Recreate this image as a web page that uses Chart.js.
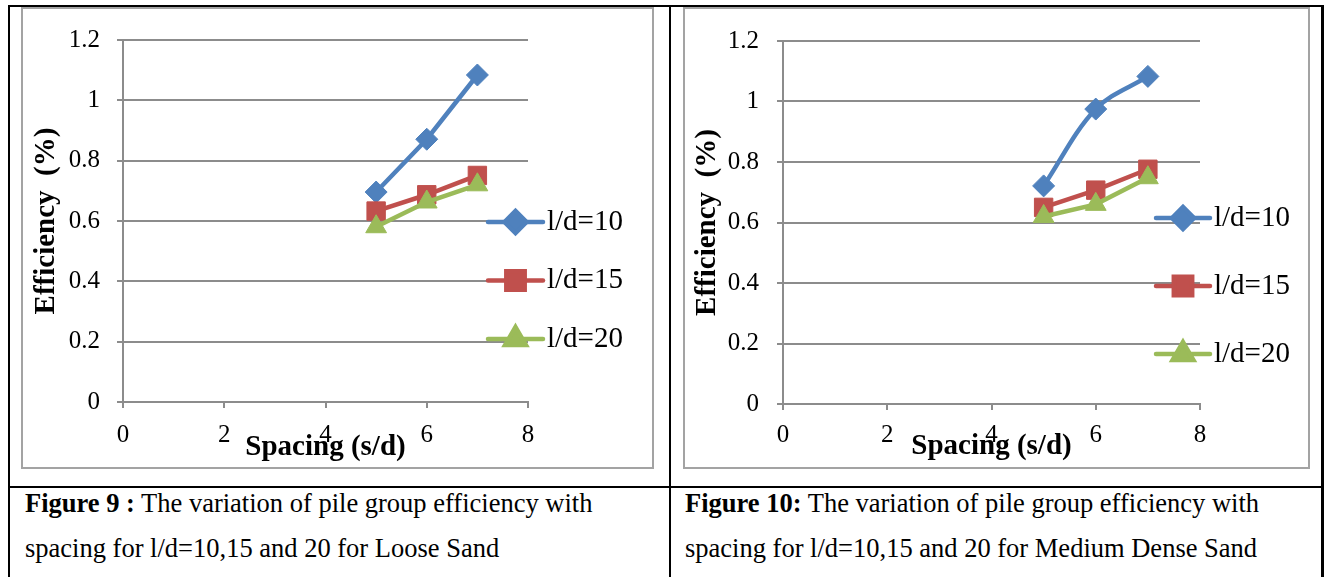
<!DOCTYPE html>
<html>
<head>
<meta charset="utf-8">
<script src="https://cdn.jsdelivr.net/npm/chart.js@4.4.1/dist/chart.umd.min.js"></script>
<style>
  body { margin: 0; background: #fff; }
  #page { position: relative; width: 1330px; height: 577px; overflow: hidden; font-family: "Liberation Serif", "Times New Roman", serif; }
  .rule { position: absolute; background: #000; }
  .frame { position: absolute; border: 2px solid #a3a3a3; box-sizing: border-box; }
  canvas { position: absolute; }
  .caption { position: absolute; top: 480.5px; font-size: 26.5px; line-height: 45px; white-space: nowrap; color: #000; }
</style>
</head>
<body>
<div id="page">
  <div class="frame" style="left:21px; top:7px; width:633px; height:462px;"></div>
  <div class="frame" style="left:683px; top:7px; width:627px; height:462px;"></div>

  <canvas id="looseSandChart" width="629" height="460" style="left:23px; top:8px;"></canvas>
  <canvas id="mediumSandChart" width="622" height="460" style="left:685px; top:8px;"></canvas>

  <div class="rule" style="left:8px; top:5px; width:1316px; height:2px;"></div>
  <div class="rule" style="left:8px; top:5px; width:2px; height:572px;"></div>
  <div class="rule" style="left:1321px; top:5px; width:3px; height:572px;"></div>
  <div class="rule" style="left:669px; top:5px; width:2px; height:572px;"></div>
  <div class="rule" style="left:8px; top:486px; width:1316px; height:2px;"></div>

  <div class="caption" style="left:25px;"><b>Figure 9 :</b> The variation of pile group efficiency with<br>spacing for l/d=10,15 and 20 for Loose Sand</div>
  <div class="caption" style="left:685px;"><b>Figure 10:</b> The variation of pile group efficiency with<br>spacing for l/d=10,15 and 20 for Medium Dense Sand</div>
</div>

<script>
// --- Dados ---
const spacing = [5, 6, 7];
const seriesLabels = ['l/d=10', 'l/d=15', 'l/d=20'];

const looseSand10 = [0.696, 0.871, 1.084];
const looseSand15 = [0.633, 0.687, 0.751];
const looseSand20 = [0.581, 0.663, 0.720];

const mediumSand10 = [0.721, 0.975, 1.083];
const mediumSand15 = [0.650, 0.707, 0.776];
const mediumSand20 = [0.620, 0.660, 0.748];

const xTicks = [0, 2, 4, 6, 8];
const yTicks = [0, 0.2, 0.4, 0.6, 0.8, 1, 1.2];

// --- Estilo ---
const seriesColors = ['#4F81BD', '#C0504D', '#9BBB59'];
const seriesMarkers = ['rectRot', 'rect', 'triangle'];
const markerRadius = [11, 13, 12];
const gridColor = '#8c8c8c';

Chart.defaults.font.family = '"Liberation Serif", "Times New Roman", serif';
Chart.defaults.color = '#000';

// legenda lateral estilo Excel (linha + marcador + texto), sobreposta ao gráfico
const sideLegend = {
    id: 'sideLegend',
    afterDraw(chart, args, opts) {
        const ctx = chart.ctx;
        chart.data.datasets.forEach((ds, i) => {
            const y = opts.top + i * opts.gap;
            ctx.save();
            ctx.strokeStyle = ds.borderColor;
            ctx.lineWidth = ds.borderWidth;
            ctx.lineCap = 'round';
            ctx.beginPath();
            ctx.moveTo(opts.left, y);
            ctx.lineTo(opts.left + opts.lineLength, y);
            ctx.stroke();

            ctx.fillStyle = ds.pointBackgroundColor;
            ctx.strokeStyle = ds.pointBorderColor;
            Chart.helpers.drawPoint(ctx, {
                pointStyle: ds.pointStyle,
                radius: ds.pointRadius,
                borderWidth: 1,
                rotation: 0
            }, opts.left + opts.lineLength / 2, y);

            ctx.fillStyle = '#000';
            ctx.font = opts.fontSize + 'px "Liberation Serif", "Times New Roman", serif';
            ctx.textBaseline = 'middle';
            ctx.textAlign = 'left';
            ctx.fillText(ds.label, opts.left + opts.lineLength + opts.textGap, y);
            ctx.restore();
        });
    }
};

function criarGrafico(canvasId, valores, suavizar, box, legenda) {
    const datasets = valores.map((vals, i) => ({
        label: seriesLabels[i],
        data: spacing.map((s, j) => ({ x: s, y: vals[j] })),
        borderColor: seriesColors[i],
        backgroundColor: seriesColors[i],
        pointBackgroundColor: seriesColors[i],
        pointBorderColor: seriesColors[i],
        pointBorderWidth: 1,
        pointStyle: seriesMarkers[i],
        pointRadius: markerRadius[i],
        borderWidth: 4.5,
        tension: suavizar[i],
        order: valores.length - i
    }));

    return new Chart(document.getElementById(canvasId), {
        type: 'line',
        data: { datasets },
        plugins: [sideLegend],
        options: {
            responsive: false,
            animation: false,
            layout: { padding: { left: 0, top: box.padTop, right: box.padRight, bottom: 0 } },
            plugins: {
                legend: { display: false },
                tooltip: { enabled: false },
                sideLegend: legenda
            },
            scales: {
                x: {
                    type: 'linear',
                    min: 0,
                    max: 8,
                    afterBuildTicks: s => { s.ticks = xTicks.map(v => ({ value: v })); },
                    afterFit: s => { s.height = box.xHeight; },
                    grid: { drawOnChartArea: false, color: gridColor, lineWidth: 2, tickLength: 6 },
                    border: { color: gridColor, width: 2 },
                    ticks: { font: { size: 25 }, padding: box.xTickPad, autoSkip: false, maxRotation: 0, callback: v => String(v) },
                    title: {
                        display: true,
                        text: 'Spacing (s/d)',
                        font: { size: 29, weight: 'bold' },
                        padding: { top: 0, bottom: box.xTitlePad }
                    }
                },
                y: {
                    type: 'linear',
                    min: 0,
                    max: 1.2,
                    afterBuildTicks: s => { s.ticks = yTicks.map(v => ({ value: v })); },
                    afterFit: s => { s.width = box.yWidth; },
                    grid: { color: gridColor, lineWidth: 2, tickLength: 6 },
                    border: { color: gridColor, width: 2 },
                    ticks: { font: { size: 25 }, padding: box.yTickPad, callback: v => String(v) },
                    title: {
                        display: true,
                        text: 'Efficiency  (%)',
                        font: { size: 29, weight: 'bold' },
                        padding: { top: box.yTitlePad, bottom: 0 }
                    }
                }
            }
        }
    });
}

document.addEventListener('DOMContentLoaded', () => {
    criarGrafico('looseSandChart',
        [looseSand10, looseSand15, looseSand20],
        [0, 0, 0],
        { padTop: 28.5, padRight: 124, xHeight: 66, yWidth: 100, xTickPad: 12, yTickPad: 17, xTitlePad: 3, yTitlePad: 6 },
        { left: 465, top: 214, gap: 58.5, lineLength: 55, textGap: 4, fontSize: 29 });

    criarGrafico('mediumSandChart',
        [mediumSand10, mediumSand15, mediumSand20],
        [0.35, 0, 0],
        { padTop: 18, padRight: 107, xHeight: 64, yWidth: 98, xTickPad: 10, yTickPad: 18, xTitlePad: 4, yTitlePad: 5 },
        { left: 471, top: 210, gap: 68, lineLength: 54, textGap: 4, fontSize: 29 });
});
</script>
</body>
</html>
